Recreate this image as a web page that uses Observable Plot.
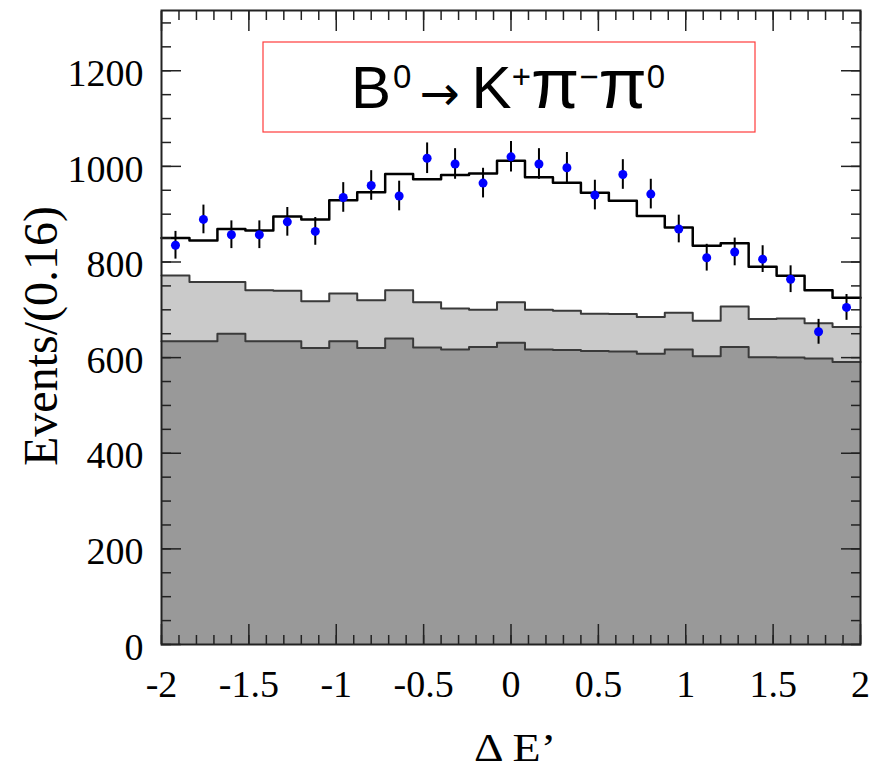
<!DOCTYPE html>
<html><head><meta charset="utf-8">
<script src="https://cdn.jsdelivr.net/npm/d3@7"></script>
<script src="https://cdn.jsdelivr.net/npm/@observablehq/plot@0.6"></script>
<style>
body{margin:0;background:#fff}
#chart{position:relative;width:872px;height:771px}
</style>
</head><body><div id="chart"></div>
<script>
// ---- data ----
const xCenters = [-1.92,-1.76,-1.60,-1.44,-1.28,-1.12,-0.96,-0.80,-0.64,-0.48,-0.32,-0.16,0.00,0.16,0.32,0.48,0.64,0.80,0.96,1.12,1.28,1.44,1.60,1.76,1.92];
const binHalfWidth = 0.08;
const dataCounts = [835,889,857,857,884,864,935,960,938,1017,1005,965,1020,1005,997,940,983,942,869,809,821,806,764,654,705];
const dataErr    = [29,30,29,29,30,29,31,31,31,32,32,31,32,32,32,31,31,31,29,28,29,28,28,26,27];
const fitTotal   = [850,845,869,866,895,889,929,946,984,973,982,985,1012,977,966,945,928,896,872,834,839,790,771,741,725];
const bkgLight   = [772,758,758,741,740,718,734,720,741,716,703,700,716,700,698,692,691,685,694,677,707,681,682,672,664];
const bkgDark    = [634,634,650,634,634,620,634,620,640,621,617,622,631,617,616,614,613,608,617,603,622,601,600,598,591];
const xMajorTicks = [-2,-1.5,-1,-0.5,0,0.5,1,1.5,2];
const xMinorTicks = d3.ticks(-2, 2, 40);
const yMajorTicks = [0,200,400,600,800,1000,1200];
const yMinorTicks = d3.range(0, 1326, 50);
const xLabel = "Δ E’";
const yLabel = "Events/(0.16)";

// ---- derived tables ----
function steps(vals){
  const out = [];
  xCenters.forEach((c,i)=>{
    out.push({x:+(c-binHalfWidth).toFixed(2), y:vals[i]});
    out.push({x:+(c+binHalfWidth).toFixed(2), y:vals[i]});
  });
  return out;
}
const points = xCenters.map((x,i)=>({x, y:dataCounts[i], e:dataErr[i]}));

const serif = "Liberation Serif, Times New Roman, serif";
const tickStyle = {tickFormat:()=>"", label:null, stroke:"#222", strokeWidth:1.5};
const chart = Plot.plot({
  width: 872, height: 771,
  marginTop: 10, marginLeft: 161, marginRight: 12, marginBottom: 127,
  x: {domain: [-2, 2]},
  y: {domain: [0, 1326]},
  marks: [
    Plot.areaY(steps(bkgLight), {x:"x", y1:0, y2:"y", fill:"#cacaca"}),
    Plot.areaY(steps(bkgDark), {x:"x", y1:0, y2:"y", fill:"#999999"}),
    Plot.line(steps(bkgLight), {x:"x", y:"y", stroke:"#3a3a3a", strokeWidth:2}),
    Plot.line(steps(bkgDark), {x:"x", y:"y", stroke:"#3a3a3a", strokeWidth:2}),
    Plot.line(steps(fitTotal), {x:"x", y:"y", stroke:"#000", strokeWidth:2.5}),
    Plot.ruleX(points, {x:"x", y1:d=>d.y-d.e, y2:d=>d.y+d.e, stroke:"#000", strokeWidth:2}),
    Plot.dot(points, {x:"x", y:"y", r:4.5, fill:"#0000ff", stroke:"none"}),
    // inward ticks on all four sides
    Plot.axisX(xMajorTicks, {anchor:"bottom", tickSize:-20, ...tickStyle}),
    Plot.axisX(xMinorTicks, {anchor:"bottom", tickSize:-9, ...tickStyle}),
    Plot.axisX(xMajorTicks, {anchor:"top", tickSize:-20, ...tickStyle}),
    Plot.axisX(xMinorTicks, {anchor:"top", tickSize:-9, ...tickStyle}),
    Plot.axisY(yMajorTicks, {anchor:"left", tickSize:-20, ...tickStyle}),
    Plot.axisY(yMinorTicks, {anchor:"left", tickSize:-10, ...tickStyle}),
    Plot.axisY(yMajorTicks, {anchor:"right", tickSize:-20, ...tickStyle}),
    Plot.axisY(yMinorTicks, {anchor:"right", tickSize:-10, ...tickStyle}),
    // tick labels
    Plot.axisX(xMajorTicks, {anchor:"bottom", tickSize:0, tickPadding:26, tickFormat:d=>String(d), label:null, fontSize:38, fontFamily:serif, fill:"#000"}),
    Plot.axisY(yMajorTicks, {anchor:"left", tickSize:0, tickPadding:18, tickFormat:d=>String(d), label:null, fontSize:38, fontFamily:serif, fill:"#000", dy:3}),
    Plot.frame({stroke:"#222", strokeWidth:2})
  ]
});
document.getElementById("chart").appendChild(chart);

// ---- axis titles and decay label ----
const svg = d3.select(chart);
svg.append("text")
  .attr("transform","translate(57,336) rotate(-90)")
  .attr("text-anchor","middle").attr("font-family",serif).attr("font-size",48).attr("fill","#000")
  .text(yLabel);
svg.append("text")
  .attr("transform","translate(515,761) scale(1.15,1)")
  .attr("text-anchor","middle").attr("font-family",serif).attr("font-size",40).attr("fill","#000")
  .text(xLabel);

svg.append("rect").attr("x",263).attr("y",42).attr("width",492).attr("height",90)
  .attr("fill","#fff").attr("stroke","#ff3b3b").attr("stroke-width",1.2);
const t = svg.append("text").attr("x",351).attr("y",108).attr("text-anchor","start")
  .attr("font-family","Liberation Sans, Arial, sans-serif").attr("font-size",60).attr("fill","#000");
t.append("tspan").text("B");
t.append("tspan").attr("font-size",33).attr("dy",-20).attr("dx",2).text("0");
t.append("tspan").attr("font-family","DejaVu Sans").attr("font-size",48).attr("dy",22).attr("dx",8).text("→");
t.append("tspan").attr("font-size",60).attr("dy",-2).attr("dx",12).text("K");
t.append("tspan").attr("font-size",33).attr("dy",-20).text("+");
t.append("tspan").attr("font-size",70).attr("dy",20).text("π");
t.append("tspan").attr("font-size",33).attr("dy",-20).text("−");
t.append("tspan").attr("font-size",70).attr("dy",20).text("π");
t.append("tspan").attr("font-size",33).attr("dy",-20).text("0");
</script></body></html>
